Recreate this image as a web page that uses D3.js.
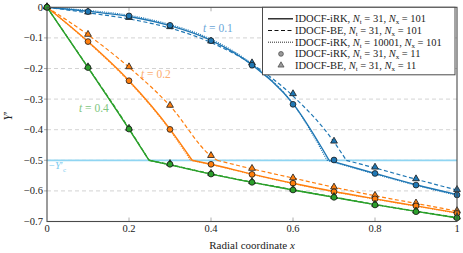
<!DOCTYPE html>
<html>
<head>
<meta charset="UTF-8">
<title>Radial profile</title>
<script src="https://d3js.org/d3.v7.min.js"></script>
<style>
  body { margin: 0; background: #fff; }
</style>
</head>
<body>
<div id="chart"></div>
<script>
// coarse grid nodes (Nx = 11)
var xCoarse = [0, 0.1, 0.2, 0.3, 0.4, 0.5, 0.6, 0.7, 0.8, 0.9, 1];

// t = 0.1 (blue)
var blueIrkX   = [0, 0.1, 0.2, 0.3, 0.4, 0.5, 0.6, 0.688, 0.8, 0.9, 1];
var blueIrkY   = [0, -0.013, -0.03, -0.06, -0.108, -0.188, -0.315, -0.5, -0.543, -0.58, -0.612];
var blueBeX    = [0, 0.1, 0.2, 0.3, 0.4, 0.5, 0.6, 0.7, 0.73, 0.8, 0.9, 1];
var blueBeY    = [0, -0.018, -0.038, -0.068, -0.115, -0.186, -0.29, -0.44, -0.5, -0.525, -0.562, -0.597];
var blueFineX  = [0, 0.1, 0.2, 0.3, 0.4, 0.5, 0.6, 0.683, 0.8, 0.9, 1];
var blueFineY  = [0, -0.01, -0.026, -0.056, -0.104, -0.185, -0.315, -0.5, -0.545, -0.582, -0.614];
var blueIrk11  = [0, -0.014, -0.028, -0.059, -0.109, -0.189, -0.317, -0.499, -0.543, -0.581, -0.613];
var blueBe11   = [0, -0.017, -0.035, -0.065, -0.112, -0.183, -0.284, -0.439, -0.524, -0.562, -0.597];

// t = 0.2 (orange)
var orangeIrkX  = [0, 0.1, 0.2, 0.3, 0.354, 0.4, 0.5, 0.6, 0.7, 0.8, 0.9, 1];
var orangeIrkY  = [0, -0.112, -0.24, -0.398, -0.5, -0.513, -0.545, -0.575, -0.602, -0.626, -0.649, -0.672];
var orangeBeX   = [0, 0.1, 0.2, 0.3, 0.4, 0.415, 0.5, 0.6, 0.7, 0.8, 0.9, 1];
var orangeBeY   = [0, -0.09, -0.196, -0.322, -0.486, -0.5, -0.528, -0.558, -0.588, -0.616, -0.641, -0.666];
var orangeFineX = [0, 0.1, 0.2, 0.3, 0.35, 0.4, 0.5, 0.6, 0.7, 0.8, 0.9, 1];
var orangeFineY = [0, -0.114, -0.243, -0.402, -0.5, -0.514, -0.546, -0.576, -0.603, -0.627, -0.65, -0.673];
var orangeIrk11 = [0, -0.112, -0.24, -0.399, -0.513, -0.546, -0.575, -0.603, -0.626, -0.649, -0.673];
var orangeBe11  = [0, -0.09, -0.196, -0.322, -0.486, -0.528, -0.559, -0.589, -0.616, -0.641, -0.666];

// t = 0.4 (green)
var greenIrkX  = [0, 0.1, 0.2, 0.249, 0.3, 0.4, 0.5, 0.6, 0.7, 0.8, 0.9, 1];
var greenIrkY  = [0, -0.197, -0.398, -0.5, -0.515, -0.545, -0.572, -0.597, -0.621, -0.645, -0.667, -0.688];
var greenBeY   = [0, -0.196, -0.396, -0.5, -0.514, -0.544, -0.571, -0.596, -0.62, -0.644, -0.666, -0.687];
var greenIrk11 = [0, -0.197, -0.398, -0.513, -0.545, -0.572, -0.597, -0.621, -0.646, -0.668, -0.688];
var greenBe11  = [0, -0.196, -0.397, -0.512, -0.544, -0.571, -0.596, -0.62, -0.645, -0.667, -0.687];

var yTicks = [0, -0.1, -0.2, -0.3, -0.4, -0.5, -0.6, -0.7];
var xTicks = [0, 0.2, 0.4, 0.6, 0.8, 1];
var yc = -0.5;

var legendLabels = [
  ["IDOCF-iRK, ", "31", "101"],
  ["IDOCF-BE, ", "31", "101"],
  ["IDOCF-iRK, ", "10001", "101"],
  ["IDOCF-iRK, ", "31", "11"],
  ["IDOCF-BE, ", "31", "11"]
];

var width = 463, height = 253;
var serif = "'Liberation Serif', 'DejaVu Serif', 'Times New Roman', serif";
var x = d3.scaleLinear().domain([0, 1]).range([47, 457]);
var y = d3.scaleLinear().domain([-0.7, 0]).range([221.5, 7.3]);

var svg = d3.select("#chart").append("svg")
  .attr("width", width).attr("height", height)
  .attr("font-family", serif)
  .style("font-family", serif);

function zip(xs, ys) { return xs.map(function(v, i) { return [v, ys[i]]; }); }

// grid
svg.append("g").selectAll("line")
  .data(yTicks.filter(function(d) { return d < 0 && d > -0.7; }))
  .enter().append("line")
  .attr("x1", x(0)).attr("x2", x(1))
  .attr("y1", function(d) { return y(d); }).attr("y2", function(d) { return y(d); })
  .attr("stroke", "#c8c8c8").attr("stroke-width", 0.8)
  .attr("stroke-dasharray", "4,3");

// -Yc' line
svg.append("line")
  .attr("x1", x(0)).attr("x2", x(1)).attr("y1", y(yc)).attr("y2", y(yc))
  .attr("stroke", "#90d5f2").attr("stroke-width", 1.8);
svg.append("text").attr("x", 49).attr("y", y(yc) + 9)
  .attr("font-size", 10.5).attr("fill", "#7ccbef")
  .call(function(t) {
    t.append("tspan").text("\u2212");
    t.append("tspan").attr("font-style", "italic").text("Y");
    t.append("tspan").text("\u2032");
    t.append("tspan").attr("font-size", 7).attr("dy", 2.5).text("c");
  });

var line = d3.line().x(function(d) { return x(d[0]); }).y(function(d) { return y(d[1]); })
  .curve(d3.curveMonotoneX);

function drawCurve(pts, color, dash, w) {
  // split at the kink where the profile reaches -Yc'
  var k = pts.findIndex(function(p) { return p[1] <= yc; });
  [pts.slice(0, k + 1), pts.slice(k)].forEach(function(seg) {
    svg.append("path").datum(seg)
      .attr("d", line)
      .attr("fill", "none")
      .attr("stroke", color)
      .attr("stroke-width", w)
      .attr("stroke-dasharray", dash);
  });
}

var triangle = d3.symbol().type(d3.symbolTriangle).size(20);

function drawMarkers(ys, color, kind) {
  var g = svg.append("g");
  if (kind === "circle") {
    g.selectAll("circle").data(zip(xCoarse, ys)).enter().append("circle")
      .attr("cx", function(d) { return x(d[0]); })
      .attr("cy", function(d) { return y(d[1]); })
      .attr("r", 2.9)
      .attr("fill", color).attr("stroke", "#1a1a1a").attr("stroke-width", 0.8);
  } else {
    g.selectAll("path").data(zip(xCoarse, ys)).enter().append("path")
      .attr("d", triangle)
      .attr("transform", function(d) { return "translate(" + x(d[0]) + "," + (y(d[1]) - 0.5) + ")"; })
      .attr("fill", color).attr("stroke", "#1a1a1a").attr("stroke-width", 0.8);
  }
}

var blue = "#1f77b4", orange = "#ff7f0e", green = "#2ca02c";

drawCurve(zip(blueIrkX, blueIrkY), blue, null, 1.4);
drawCurve(zip(blueBeX, blueBeY), blue, "4,2.5", 1.2);
drawCurve(zip(blueFineX, blueFineY), blue, "1,1.2", 1.1);
drawMarkers(blueBe11, blue, "triangle");
drawMarkers(blueIrk11, blue, "circle");

drawCurve(zip(orangeIrkX, orangeIrkY), orange, null, 1.4);
drawCurve(zip(orangeBeX, orangeBeY), orange, "4,2.5", 1.2);
drawCurve(zip(orangeFineX, orangeFineY), orange, "1,1.2", 1.1);
drawMarkers(orangeBe11, orange, "triangle");
drawMarkers(orangeIrk11, orange, "circle");

drawCurve(zip(greenIrkX, greenIrkY), green, null, 1.4);
drawCurve(zip(greenIrkX, greenBeY), green, "4,2.5", 1.2);
drawCurve(zip(greenIrkX, greenIrkY), green, "1,1.2", 1.1);
drawMarkers(greenBe11, green, "triangle");
drawMarkers(greenIrk11, green, "circle");

// t labels
function tLabel(px, py, val, color) {
  svg.append("text").attr("x", px).attr("y", py).attr("font-size", 11.5).attr("fill", color)
    .call(function(t) {
      t.append("tspan").attr("font-style", "italic").text("t");
      t.append("tspan").text(" = " + val);
    });
}
tLabel(203, 32, "0.1", "#6aa6d8");
tLabel(141, 78, "0.2", "#fbae72");
tLabel(79, 112, "0.4", "#80c680");

// ticks
var tg = svg.append("g").attr("stroke", "#9a9a9a").attr("stroke-width", 0.8);
xTicks.slice(1, -1).forEach(function(v) {
  tg.append("line").attr("x1", x(v)).attr("x2", x(v)).attr("y1", y(-0.7)).attr("y2", y(-0.7) - 4);
  tg.append("line").attr("x1", x(v)).attr("x2", x(v)).attr("y1", y(0)).attr("y2", y(0) + 4);
});
yTicks.slice(1, -1).forEach(function(v) {
  tg.append("line").attr("x1", x(0) - 3).attr("x2", x(0)).attr("y1", y(v)).attr("y2", y(v));
});

// frame
svg.append("rect")
  .attr("x", x(0)).attr("y", y(0)).attr("width", x(1) - x(0)).attr("height", y(-0.7) - y(0))
  .attr("fill", "none").attr("stroke", "#4a4a4a").attr("stroke-width", 1.1);

// tick labels
var fmt = function(d) { return d === 0 ? "0" : d3.format(".1f")(d).replace("-", "\u2212"); };
svg.append("g").selectAll("text").data(yTicks).enter().append("text")
  .attr("x", 43).attr("y", function(d) { return y(d) + 3.5; })
  .attr("text-anchor", "end").attr("font-size", 10.5).attr("fill", "#222")
  .text(fmt);
svg.append("g").selectAll("text").data(xTicks).enter().append("text")
  .attr("x", function(d) { return x(d); }).attr("y", 232)
  .attr("text-anchor", "middle").attr("font-size", 10.5).attr("fill", "#222")
  .text(function(d) { return d === 0 || d === 1 ? String(d) : d3.format(".1f")(d); });

// axis titles
svg.append("text").attr("x", 252).attr("y", 249).attr("text-anchor", "middle")
  .attr("font-size", 11).attr("fill", "#222")
  .call(function(t) {
    t.append("tspan").text("Radial coordinate ");
    t.append("tspan").attr("font-style", "italic").text("x");
  });
svg.append("text").attr("transform", "translate(12,116) rotate(-90)")
  .attr("text-anchor", "middle").attr("font-size", 11.5).attr("fill", "#222")
  .call(function(t) {
    t.append("tspan").attr("font-style", "italic").text("Y");
    t.append("tspan").text("\u2032");
  });

// legend
var lg = svg.append("g");
lg.append("rect").attr("x", 262.5).attr("y", 7.3).attr("width", 192.5).attr("height", 67.5)
  .attr("fill", "#fff").attr("stroke", "#4a4a4a").attr("stroke-width", 1);
legendLabels.forEach(function(lab, i) {
  var cy = 18.8 + i * 11.7;
  if (i === 0) lg.append("line").attr("x1", 268).attr("x2", 293).attr("y1", cy).attr("y2", cy).attr("stroke", "#111").attr("stroke-width", 1.3);
  if (i === 1) lg.append("line").attr("x1", 268).attr("x2", 293).attr("y1", cy).attr("y2", cy).attr("stroke", "#111").attr("stroke-width", 1.2).attr("stroke-dasharray", "4,2.5");
  if (i === 2) lg.append("line").attr("x1", 268).attr("x2", 293).attr("y1", cy).attr("y2", cy).attr("stroke", "#111").attr("stroke-width", 0.9).attr("stroke-dasharray", "1,1");
  if (i === 3) lg.append("circle").attr("cx", 281).attr("cy", cy).attr("r", 2.4).attr("fill", "#9a9a9a").attr("stroke", "#444").attr("stroke-width", 0.7);
  if (i === 4) lg.append("path").attr("d", d3.symbol().type(d3.symbolTriangle).size(16))
    .attr("transform", "translate(281," + (cy - 0.3) + ")").attr("fill", "#9a9a9a").attr("stroke", "#444").attr("stroke-width", 0.7);
  var t = lg.append("text").attr("x", 295).attr("y", cy + 3.5).attr("font-size", 10.5).attr("fill", "#222");
  t.append("tspan").text(lab[0]);
  t.append("tspan").attr("font-style", "italic").text("N");
  t.append("tspan").attr("font-size", 7).attr("dy", 2).text("t");
  t.append("tspan").attr("dy", -2).text(" = " + lab[1] + ", ");
  t.append("tspan").attr("font-style", "italic").text("N");
  t.append("tspan").attr("font-size", 7).attr("dy", 2).text("x");
  t.append("tspan").attr("dy", -2).text(" = " + lab[2]);
});
</script>
</body>
</html>
